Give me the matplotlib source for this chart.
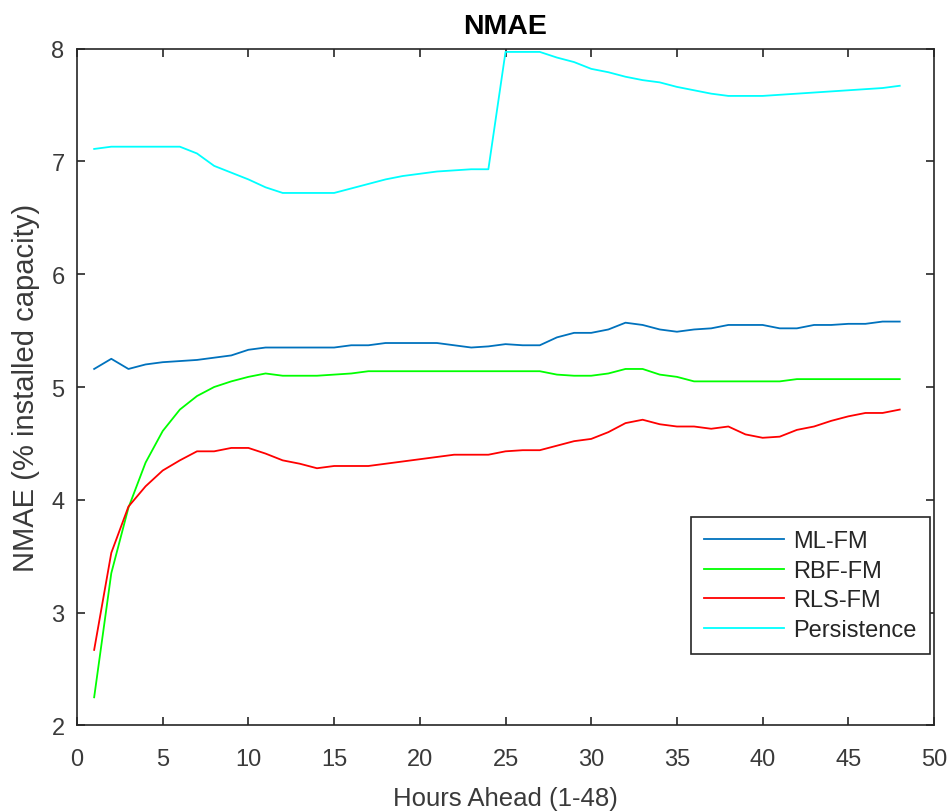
import matplotlib
matplotlib.use("Agg")
import matplotlib.pyplot as plt
import numpy as np

plt.rcParams['font.family'] = ['Liberation Sans', 'DejaVu Sans']

hours = list(range(1, 49))

ml_fm = [5.16, 5.25, 5.16, 5.20, 5.22, 5.23, 5.24, 5.26, 5.28, 5.33,
         5.35, 5.35, 5.35, 5.35, 5.35, 5.37, 5.37, 5.39, 5.39, 5.39,
         5.39, 5.37, 5.35, 5.36, 5.38, 5.37, 5.37, 5.44, 5.48, 5.48,
         5.51, 5.57, 5.55, 5.51, 5.49, 5.51, 5.52, 5.55, 5.55, 5.55,
         5.52, 5.52, 5.55, 5.55, 5.56, 5.56, 5.58, 5.58]

rbf_fm = [2.25, 3.35, 3.93, 4.33, 4.61, 4.80, 4.92, 5.00, 5.05, 5.09,
          5.12, 5.10, 5.10, 5.10, 5.11, 5.12, 5.14, 5.14, 5.14, 5.14,
          5.14, 5.14, 5.14, 5.14, 5.14, 5.14, 5.14, 5.11, 5.10, 5.10,
          5.12, 5.16, 5.16, 5.11, 5.09, 5.05, 5.05, 5.05, 5.05, 5.05,
          5.05, 5.07, 5.07, 5.07, 5.07, 5.07, 5.07, 5.07]

rls_fm = [2.67, 3.53, 3.94, 4.12, 4.26, 4.35, 4.43, 4.43, 4.46, 4.46,
          4.41, 4.35, 4.32, 4.28, 4.30, 4.30, 4.30, 4.32, 4.34, 4.36,
          4.38, 4.40, 4.40, 4.40, 4.43, 4.44, 4.44, 4.48, 4.52, 4.54,
          4.60, 4.68, 4.71, 4.67, 4.65, 4.65, 4.63, 4.65, 4.58, 4.55,
          4.56, 4.62, 4.65, 4.70, 4.74, 4.77, 4.77, 4.80]

persistence = [7.11, 7.13, 7.13, 7.13, 7.13, 7.13, 7.07, 6.96, 6.90, 6.84,
               6.77, 6.72, 6.72, 6.72, 6.72, 6.76, 6.80, 6.84, 6.87, 6.89,
               6.91, 6.92, 6.93, 6.93, 7.97, 7.97, 7.97, 7.92, 7.88, 7.82,
               7.79, 7.75, 7.72, 7.70, 7.66, 7.63, 7.60, 7.58, 7.58, 7.58,
               7.59, 7.60, 7.61, 7.62, 7.63, 7.64, 7.65, 7.67]

series_names = ['ML-FM', 'RBF-FM', 'RLS-FM', 'Persistence']
series_colors = ['#0072BD', '#00FF00', '#FF0000', '#00FFFF']

fig = plt.figure(figsize=(9.52, 8.12), dpi=100)
ax = fig.add_axes([0.0809, 0.1053, 0.9002, 0.8337])

for vals, name, col in zip([ml_fm, rbf_fm, rls_fm, persistence], series_names, series_colors):
    ax.plot(hours, vals, color=col, lw=1.3, label=name)

ax.set_xlim(0, 50)
ax.set_ylim(2, 8)
ax.set_xticks(range(0, 51, 5))
ax.set_yticks(range(2, 9))

axcol = '#262626'
for s in ax.spines.values():
    s.set_color(axcol)
    s.set_linewidth(1.2)
ax.tick_params(direction='in', top=True, right=True, length=6, width=1.2,
               colors=axcol, labelsize=17, labelcolor='#3a3a3a')
ax.tick_params(axis='x', pad=16)
ax.tick_params(axis='y', pad=9)

ax.set_title('NMAE', fontsize=20.5, fontweight='bold', color='black', pad=11)
ax.set_xlabel('Hours Ahead (1-48)', fontsize=18.5, color='#3a3a3a', labelpad=12)
ax.set_ylabel('NMAE (% installed capacity)', fontsize=21, color='#3a3a3a', labelpad=8)

leg = ax.legend(loc='lower right', bbox_to_anchor=(0.9953, 0.1056), borderaxespad=0,
                fontsize=17, frameon=True, fancybox=False, edgecolor=axcol, framealpha=1,
                handlelength=3.4, handletextpad=0.4, borderpad=0.55, labelspacing=0.32)
leg.get_frame().set_linewidth(1.2)
for t in leg.get_texts():
    t.set_color('#262626')

fig.savefig('out.png', dpi=100, facecolor='white')
